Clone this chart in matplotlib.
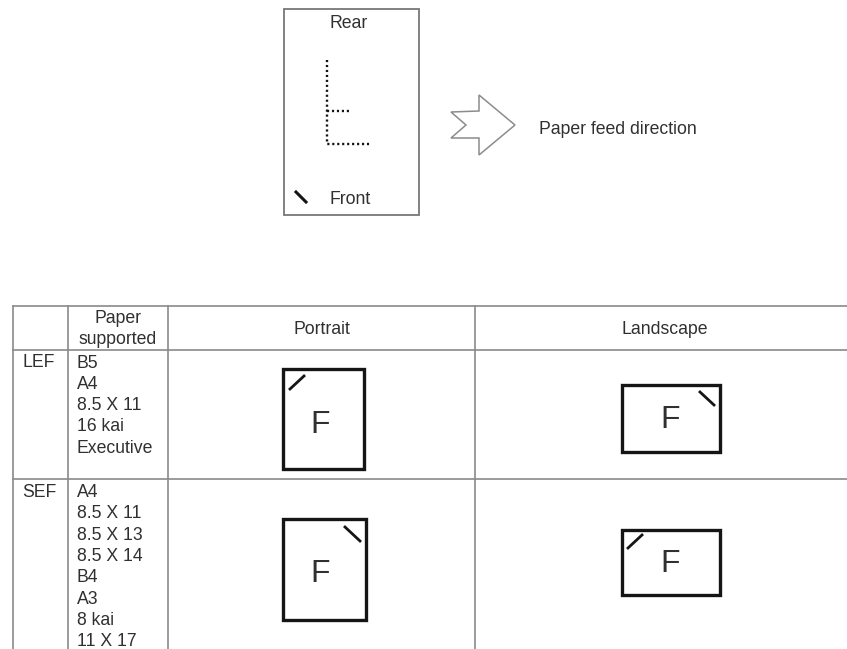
import matplotlib
matplotlib.use('Agg')
import matplotlib.pyplot as plt
from matplotlib.patches import Polygon, Rectangle

plt.rcParams['font.family'] = ['Liberation Sans', 'DejaVu Sans']

# Contenido de la tabla
encabezados = ['Paper\nsupported', 'Portrait', 'Landscape']
filas = ['LEF', 'SEF']
papel_lef = ['B5', 'A4', '8.5 X 11', '16 kai', 'Executive']
papel_sef = ['A4', '8.5 X 11', '8.5 X 13', '8.5 X 14', 'B4', 'A3', '8 kai', '11 X 17']

# Geometria de la tabla, en pixeles de la imagen
columnas_x = [13, 68, 168, 475]
filas_y = [306, 350, 479]
# x0, y0, x1, y1, marca (x0, y0, x1, y1), centro de la F
hojas = [
    (283, 369, 364, 469, (290, 389, 304, 376), (320, 425)),
    (283, 519, 366, 620, (345, 527, 360, 541), (320, 574)),
    (622, 385, 720, 452, (700, 392, 714, 405), (670, 420)),
    (622, 530, 720, 595, (628, 548, 642, 535), (670, 564)),
]

GRIS = '#8a8a8a'
TEXTO = '#303030'
TAM = 12.7

fig = plt.figure(figsize=(8.47, 6.49), dpi=100)
ax = fig.add_axes([0, 0, 1, 1])
ax.set_xlim(0, 847)
ax.set_ylim(649, 0)
ax.axis('off')


# Funcion para dibujar una hoja con su marca y su F
def dibujar_hoja(x0, y0, x1, y1, marca, centro):
    ax.add_patch(Rectangle((x0, y0), x1 - x0, y1 - y0, fill=False, ec='#151515', lw=2.4))
    ax.plot([marca[0], marca[2]], [marca[1], marca[3]], color='#151515', lw=2.0)
    ax.text(centro[0], centro[1], 'F', fontsize=23, color='#303030', ha='center', va='center')


# Esquema superior
ax.add_patch(Rectangle((284, 9), 135, 206, fill=False, ec='#777777', lw=1.3))
ax.text(348.5, 23, 'Rear', fontsize=TAM, color=TEXTO, ha='center', va='center')
ax.text(350, 199, 'Front', fontsize=TAM, color=TEXTO, ha='center', va='center')
ax.plot([296, 306], [192, 202], color='#151515', lw=2.2)

punteado = dict(color='#111111', lw=1.7, linestyle=(0, (0.9, 1.2)))
ax.plot([326.5, 326.5, 370], [60, 143.5, 143.5], **punteado)
ax.plot([327, 351], [110.5, 110.5], **punteado)

flecha = [(451, 112), (479, 111), (479, 95), (515, 125), (479, 155), (479, 138), (451, 138), (466, 125)]
ax.add_patch(Polygon(flecha, closed=True, fill=False, ec='#8c8c8c', lw=1.1))
ax.text(539, 129.5, 'Paper feed direction', fontsize=TAM, color=TEXTO, ha='left', va='center')

# Lineas de la tabla
for x in columnas_x:
    ax.plot([x, x], [306, 649], color=GRIS, lw=1.2)
for y in filas_y:
    ax.plot([13, 847], [y, y], color=GRIS, lw=1.2)

# Encabezados
ax.text(118, 329, encabezados[0], fontsize=TAM, color=TEXTO, ha='center', va='center', linespacing=1.25)
ax.text(322, 329, encabezados[1], fontsize=TAM, color=TEXTO, ha='center', va='center')
ax.text(665, 329.5, encabezados[2], fontsize=TAM, color=TEXTO, ha='center', va='center')

# Filas
ax.text(22, 362.5, filas[0], fontsize=TAM, color=TEXTO, ha='left', va='center')
ax.text(22, 492.5, filas[1], fontsize=TAM, color=TEXTO, ha='left', va='center')
for i, papel in enumerate(papel_lef):
    ax.text(77, 363 + i * 21.3, papel, fontsize=TAM, color=TEXTO, ha='left', va='center')
for i, papel in enumerate(papel_sef):
    ax.text(77, 492.5 + i * 21.3, papel, fontsize=TAM, color=TEXTO, ha='left', va='center')

for hoja in hojas:
    dibujar_hoja(*hoja)

fig.savefig('out.png', dpi=100)
